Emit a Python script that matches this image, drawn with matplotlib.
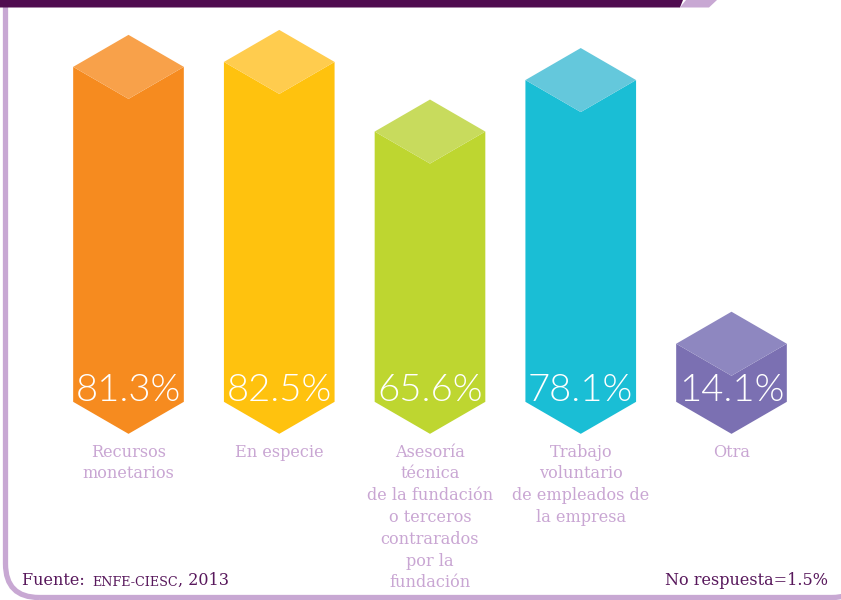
import numpy as np
import matplotlib.pyplot as plt
from matplotlib.patches import Polygon, FancyBboxPatch

# support types and share of companies (%)
categories = [
    "Recursos\nmonetarios",
    "En especie",
    "Asesoría\ntécnica\nde la fundación\no terceros\ncontrarados\npor la\nfundación",
    "Trabajo\nvoluntario\nde empleados de\nla empresa",
    "Otra",
]
values = [81.3, 82.5, 65.6, 78.1, 14.1]
value_labels = ["81.3%", "82.5%", "65.6%", "78.1%", "14.1%"]
front_colors = ["#F68B1F", "#FFC20E", "#BED630", "#1ABED5", "#7B70B2"]
top_colors = ["#F8A14A", "#FFCC4E", "#C8DB5D", "#64C8DC", "#8E87C0"]
source_note = ("Fuente: ", "ENFE-CIESC", ", 2013")
missing_note = "No respuesta=1.5%"

W, H = 841, 600
fig = plt.figure(figsize=(W / 100, H / 100), dpi=100)
ax = fig.add_axes([0, 0, 1, 1])
ax.set_xlim(-0.8524, 4.7264)
ax.set_ylim(-55.87, 89.76)
ax.axis("off")

half_w = 0.367   # half width of a prism, in category units
depth = 7.77     # half height of the top diamond, in value units

LABEL_PURPLE = "#C9A6D3"
DARK_PURPLE = "#58185C"
FRAME_PURPLE = "#C8A8D3"

for i, (v, fc, tc) in enumerate(zip(values, front_colors, top_colors)):
    l, r = i - half_w, i + half_w
    front = [(l, v - depth), (i, v - 2 * depth), (r, v - depth),
             (r, -depth), (i, -2 * depth), (l, -depth)]
    top = [(i, v), (r, v - depth), (i, v - 2 * depth), (l, v - depth)]
    ax.add_patch(Polygon(front, closed=True, facecolor=fc, edgecolor="none"))
    ax.add_patch(Polygon(top, closed=True, facecolor=tc, edgecolor="none"))
    ax.text(i, -depth + 0.3, value_labels[i], ha="center", va="baseline",
            color="white", fontsize=27.5, family="Lato", fontweight=300)
    ax.text(i, -17.9, categories[i], ha="center", va="top", color=LABEL_PURPLE,
            fontsize=11.6, family="DejaVu Serif", linespacing=1.37)

# frame around the chart, right side runs off the edge
frame = FancyBboxPatch((5.5 / W, 2.5 / H), 860 / W, 640 / H,
                       boxstyle="round,pad=0,rounding_size=0.04",
                       transform=fig.transFigure, facecolor="none",
                       edgecolor=FRAME_PURPLE, linewidth=3.8,
                       mutation_aspect=W / H, clip_on=False)
fig.patches.append(frame)

# header band at the top
band = Polygon([(0, 1), (683 / W, 1), (680 / W, 1 - 7.5 / H), (0, 1 - 7.5 / H)],
               closed=True, transform=fig.transFigure, facecolor="#500C50",
               edgecolor="none")
tab = Polygon([(686 / W, 1), (717 / W, 1), (709 / W, 1 - 7.5 / H), (680 / W, 1 - 7.5 / H)],
              closed=True, transform=fig.transFigure, facecolor=FRAME_PURPLE,
              edgecolor="none")
fig.patches.extend([band, tab])

t1 = fig.text(22 / W, 1 - 585 / H, source_note[0], color=DARK_PURPLE,
              fontsize=11.5, family="DejaVu Serif", va="baseline")
t2 = ax.annotate(source_note[1], xy=(1, 0), xycoords=t1, xytext=(2, 0),
                 textcoords="offset points", color=DARK_PURPLE, fontsize=9.2,
                 family="DejaVu Serif", va="bottom")
ax.annotate(source_note[2], xy=(1, 0), xycoords=t2, color=DARK_PURPLE,
            fontsize=11.5, family="DejaVu Serif", va="bottom")
fig.text(828 / W, 1 - 585 / H, missing_note, color=DARK_PURPLE, fontsize=11.5,
         family="DejaVu Serif", ha="right", va="baseline")

fig.savefig("out.png", dpi=100, facecolor="white")
